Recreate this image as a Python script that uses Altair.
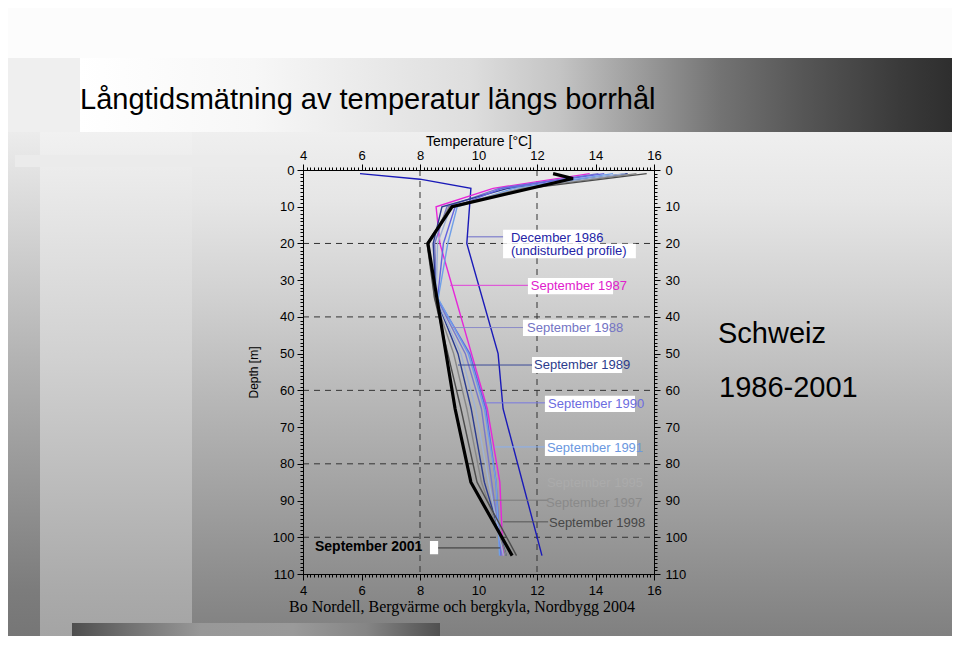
import altair as alt
import pandas as pd

# ---------------- data ----------------
series_names = ["December 1986", "September 1987", "September 1988", "September 1989",
                "September 1990", "September 1991", "September 1995", "September 1997",
                "September 1998"]
series_colors = ["#1a1ab8", "#e626d9", "#7777cc", "#2b3b8f", "#6464e0", "#6f9fe8",
                 "#9fb2d6", "#878787", "#4c4c4c"]

depth_std = [1, 5, 10, 20, 35, 50, 65, 85, 105]
dec1986_depth = [1, 2.5, 5, 20, 50, 65, 105]
dec1986_temp = [5.95, 8.0, 9.74, 9.6, 10.67, 10.84, 12.17]
sep1987_temp = [13.8, 10.5, 8.55, 8.68, 9.22, 9.76, 10.3, 10.73, 10.84]
sep1988_temp = [14.1, 10.7, 8.92, 8.5, 8.58, 9.55, 10.1, 10.45, 10.8]
sep1989_temp = [15.1, 11.0, 8.75, 8.45, 8.55, 9.3, 9.75, 10.2, 10.95]
sep1990_temp = [14.3, 10.8, 9.2, 8.8, 8.6, 9.7, 10.25, 10.6, 10.75]
sep1991_temp = [14.6, 11.2, 9.27, 8.95, 8.62, 9.65, 10.2, 10.6, 10.72]
sep1995_temp = [15.0, 11.4, 9.05, 8.6, 8.55, 9.4, 9.9, 10.35, 10.85]
sep1997_temp = [15.4, 11.5, 9.0, 8.3, 8.5, 9.15, 9.6, 10.1, 10.95]
sep1998_temp = [15.75, 11.7, 9.05, 8.24, 8.5, 8.95, 9.4, 9.95, 11.3]
sep2001_depth = [1, 2.3, 10, 20, 65, 85, 105]
sep2001_temp = [12.55, 13.23, 9.1, 8.27, 9.2, 9.74, 11.15]

label_text = ["December 1986", "(undisturbed profile)", "September 1987", "September 1988",
              "September 1989", "September 1990", "September 1991", "September 1995",
              "September 1997", "September 1998"]
label_temp = [11.11, 11.11, 11.79, 11.66, 11.90, 12.38, 12.34, 12.34, 12.31, 12.41]
label_depth = [18.5, 22.1, 31.6, 43.0, 53.1, 63.7, 75.7, 85.2, 90.7, 96.1]
label_colors = ["#2424a6", "#2424a6", "#e020cc", "#7474c4", "#2c3c8c", "#6c6ce0",
                "#6c98e0", "#ababab", "#8a8a8a", "#474747"]

box_t1 = [10.84, 10.84, 11.69, 11.52, 11.83, 12.27, 12.27, 8.34]
box_t2 = [14.15, 15.38, 14.60, 14.50, 14.91, 15.35, 15.42, 8.62]
box_d1 = [16.3, 20.1, 29.4, 40.8, 50.9, 61.5, 73.5, 101.0]
box_d2 = [20.1, 24.0, 33.8, 45.2, 55.3, 65.9, 77.9, 104.6]

leader_names = ["December 1986", "September 1987", "September 1988", "September 1989",
                "September 1990", "September 1991", "September 1997", "September 1998",
                "September 2001"]
leader_t1 = [9.64, 9.03, 9.09, 9.30, 10.15, 10.56, 10.50, 10.84, 8.62]
leader_t2 = [10.84, 11.69, 11.52, 11.83, 12.27, 12.27, 12.38, 12.38, 10.74]
leader_d = [18.2, 31.4, 42.9, 53.1, 63.4, 75.4, 89.9, 95.8, 102.9]
leader_colors = ["#6a6ac8", "#e040d8", "#8a8ac8", "#3a4a98", "#7878e0", "#8ab0f0",
                 "#7a7a7a", "#555555", "#333333"]

grid_x = [8, 12]
grid_y = [20, 40, 60, 80, 100]
x_major = [4, 6, 8, 10, 12, 14, 16]
y_major = [0, 10, 20, 30, 40, 50, 60, 70, 80, 90, 100, 110]
x_minor = [4 + i * 0.125 for i in range(97)]
y_minor = list(range(0, 111))

# ---------------- tables ----------------
rows = []
for d, t in zip(dec1986_depth, dec1986_temp):
    rows.append({"series": "December 1986", "depth": d, "temp": t, "col": series_colors[0]})
for name, col, temps in zip(series_names[1:], series_colors[1:],
                            [sep1987_temp, sep1988_temp, sep1989_temp, sep1990_temp,
                             sep1991_temp, sep1995_temp, sep1997_temp, sep1998_temp]):
    for d, t in zip(depth_std, temps):
        rows.append({"series": name, "depth": d, "temp": t, "col": col})
profiles = pd.DataFrame(rows)
black = pd.DataFrame({"depth": sep2001_depth, "temp": sep2001_temp})
labels = pd.DataFrame({"text": label_text, "temp": label_temp, "depth": label_depth,
                       "col": label_colors})
boxes = pd.DataFrame({"t1": box_t1, "t2": box_t2, "d1": box_d1, "d2": box_d2})
leaders = pd.DataFrame({"name": leader_names, "t1": leader_t1, "t2": leader_t2, "d": leader_d,
                        "col": leader_colors})
vgrid = pd.DataFrame({"t": grid_x, "d1": [0] * len(grid_x), "d2": [110] * len(grid_x)})
hgrid = pd.DataFrame({"d": grid_y, "t1": [4] * len(grid_y), "t2": [16] * len(grid_y)})
one = pd.DataFrame({"t": [4.0], "d": [0.0]})

xs = alt.Scale(domain=[4, 16], nice=False, zero=False)
ys = alt.Scale(domain=[0, 110], reverse=True, nice=False, zero=False)

FONT = "Liberation Sans"


def grad(stops, vertical=True):
    return alt.LinearGradient(
        gradient="linear",
        stops=[alt.GradientStop(color=c, offset=o) for o, c in stops],
        x1=0, y1=0, x2=0 if vertical else 1, y2=1 if vertical else 0)


def rect(x1, x2, y1, y2, fill):
    return alt.Chart(one).mark_rect(fill=fill, strokeWidth=0).encode(
        x=alt.value(x1), x2=alt.value(x2), y=alt.value(y1), y2=alt.value(y2))


def deco_text(txt, x, y, size, font=FONT, weight="normal", color="black"):
    return alt.Chart(one).mark_text(text=txt, font=font, fontSize=size, fontWeight=weight,
                                    color=color, align="left", baseline="alphabetic").encode(
        x=alt.value(x), y=alt.value(y))


# ---------------- slide background (pixels relative to plot origin) ----------------
bg_main = rect(-295, 649, -162, 466, grad([
    (0.0, "#f8f8f8"), (0.197, "#efefef"), (0.306, "#e6e6e6"), (0.465, "#d0d0d0"),
    (0.624, "#b7b7b7"), (0.783, "#a0a0a0"), (0.911, "#8d8d8d"), (1.0, "#808080")]))
bg_top = rect(-295, 649, -162, -112, "#fcfcfc")
bg_band_left = rect(-295, -223, -112, -38, "#efefef")
bg_band = rect(-223, 649, -112, -38, grad([
    (0.0, "#ffffff"), (0.2, "#f7f7f7"), (0.447, "#dedede"), (0.55, "#c4c4c4"),
    (0.642, "#9c9c9c"), (0.734, "#737373"), (0.826, "#575757"), (0.94, "#3a3a3a"),
    (1.0, "#2e2e2e")], vertical=False))
strip1 = rect(-295, -263, -38, 466, grad([
    (0.0, "#ececec"), (0.458, "#b2b2b2"), (0.909, "#7c7c7c"), (1.0, "#767676")]))
strip2 = rect(-263, -111, -38, 466, grad([
    (0.0, "#f1f1f1"), (0.458, "#d0d0d0"), (0.909, "#aaaaaa"), (1.0, "#a4a4a4")]))
faint = rect(-288, -13, -15, -3, "#ebebeb")
bar = rect(-231, 137, 453, 466, grad([
    (0.0, "#4e4e4e"), (0.15, "#707070"), (0.35, "#989898"), (0.6, "#9a9a9a"),
    (0.8, "#858585"), (1.0, "#505050")], vertical=False))

# ---------------- chart content ----------------
vgrid_l = alt.Chart(vgrid).mark_rule(color="#333333", strokeWidth=1, strokeDash=[6, 5]).encode(
    x=alt.X("t:Q", scale=xs, axis=None),
    y=alt.Y("d1:Q", scale=ys, axis=None), y2="d2:Q")
hgrid_l = alt.Chart(hgrid).mark_rule(color="#333333", strokeWidth=1, strokeDash=[6, 5]).encode(
    y=alt.Y("d:Q", scale=ys, axis=None),
    x=alt.X("t1:Q", scale=xs, axis=None), x2="t2:Q")

lines = alt.Chart(profiles).mark_line(strokeWidth=1.4).encode(
    x=alt.X("temp:Q", scale=xs, axis=None),
    y=alt.Y("depth:Q", scale=ys, axis=None),
    detail="series:N",
    color=alt.Color("col:N", scale=None),
    order=alt.Order("depth:Q"))
black_line = alt.Chart(black).mark_line(strokeWidth=3.2, color="black").encode(
    x=alt.X("temp:Q", scale=xs, axis=None),
    y=alt.Y("depth:Q", scale=ys, axis=None),
    order=alt.Order("depth:Q"))

box_l = alt.Chart(boxes).mark_rect(fill="white", strokeWidth=0).encode(
    x=alt.X("t1:Q", scale=xs, axis=None), x2="t2:Q",
    y=alt.Y("d1:Q", scale=ys, axis=None), y2="d2:Q")
leader_l = alt.Chart(leaders).mark_rule(strokeWidth=1).encode(
    x=alt.X("t1:Q", scale=xs, axis=None), x2="t2:Q",
    y=alt.Y("d:Q", scale=ys, axis=None),
    color=alt.Color("col:N", scale=None))
label_l = alt.Chart(labels).mark_text(font=FONT, fontSize=13, align="left", baseline="middle").encode(
    x=alt.X("temp:Q", scale=xs, axis=None),
    y=alt.Y("depth:Q", scale=ys, axis=None),
    text="text:N",
    color=alt.Color("col:N", scale=None))
label2001 = alt.Chart(pd.DataFrame({"text": ["September 2001"], "temp": [4.41], "depth": [102.6]})).mark_text(
    font=FONT, fontSize=14, fontWeight="bold", align="left", baseline="middle", color="black").encode(
    x=alt.X("temp:Q", scale=xs, axis=None),
    y=alt.Y("depth:Q", scale=ys, axis=None),
    text="text:N")

# ---------------- axes ----------------
common = dict(labelFont=FONT, labelFontSize=13, labelColor="black", domainColor="black",
              tickColor="black", domainWidth=1, tickWidth=1, grid=False, labelFlush=False,
              labelOverlap=False, titleFont=FONT, titleColor="black", titleFontWeight="normal",
              zindex=2)


def axis_layer(xa, ya):
    return alt.Chart(one).mark_point(opacity=0).encode(
        x=alt.X("t:Q", scale=xs, axis=xa), y=alt.Y("d:Q", scale=ys, axis=ya))


ax_tl = axis_layer(
    alt.Axis(orient="top", values=x_major, tickSize=6, labelPadding=2,
             title="Temperature [°C]", titleFontSize=14, titlePadding=1, **common),
    alt.Axis(orient="left", values=y_major, tickSize=6, labelPadding=3,
             title="Depth [m]", titleFontSize=12, titlePadding=12, **common))
ax_br = axis_layer(
    alt.Axis(orient="bottom", values=x_major, tickSize=6, labelPadding=4, title=None, **common),
    alt.Axis(orient="right", values=y_major, tickSize=6, labelPadding=5, title=None, **common))
minor = dict(labels=False, domain=False, tickSize=3, tickColor="black", tickWidth=1, grid=False,
             title=None, zindex=2)
ax_tl_minor = axis_layer(alt.Axis(orient="top", values=x_minor, **minor),
                         alt.Axis(orient="left", values=y_minor, **minor))
ax_br_minor = axis_layer(alt.Axis(orient="bottom", values=x_minor, **minor),
                         alt.Axis(orient="right", values=y_minor, **minor))

# ---------------- slide texts ----------------
title = deco_text("Långtidsmätning av temperatur längs borrhål", -223, -61, 29)
schweiz = deco_text("Schweiz", 415, 173, 29)
years = deco_text("1986-2001", 416, 227, 29)
footer = deco_text("Bo Nordell, Bergvärme och bergkyla, Nordbygg 2004", -14, 442, 16,
                   font="Liberation Serif")

chart = alt.layer(
    bg_main, bg_top, bg_band_left, bg_band, strip1, strip2, faint, bar,
    vgrid_l, hgrid_l, lines, black_line, box_l, leader_l, label_l, label2001,
    ax_tl, ax_br, ax_tl_minor, ax_br_minor,
    title, schweiz, years, footer,
).resolve_axis(x="independent", y="independent").properties(
    width=351, height=404,
    autosize=alt.AutoSizeParams(type="none"),
    padding={"left": 295, "top": 162, "right": 298, "bottom": 62},
    background="white",
).configure_view(stroke=None)

chart.save("out.html", embed_options={"renderer": "svg", "actions": False})
